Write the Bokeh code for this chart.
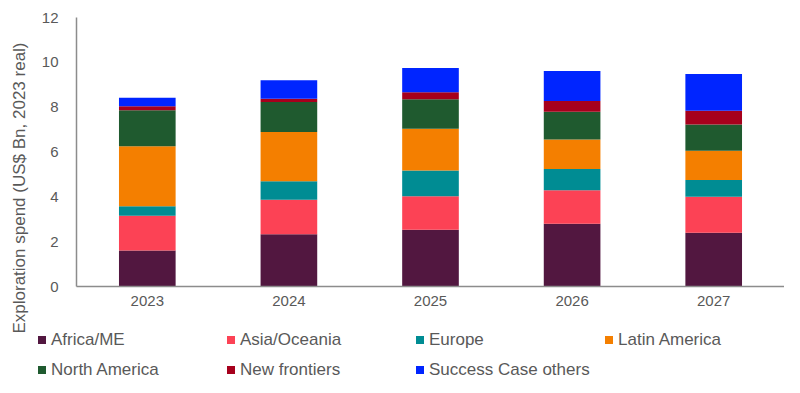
from bokeh.plotting import figure
from bokeh.layouts import row, column
from bokeh.models import Range1d, FixedTicker, Div
from bokeh.embed import file_html
from bokeh.resources import INLINE

years = ["2023", "2024", "2025", "2026", "2027"]
africa_me = [1.61, 2.33, 2.53, 2.80, 2.40]
asia_oceania = [1.55, 1.54, 1.50, 1.49, 1.60]
europe = [0.42, 0.82, 1.14, 0.95, 0.75]
latin_america = [2.68, 2.20, 1.87, 1.32, 1.31]
north_america = [1.60, 1.34, 1.31, 1.24, 1.17]
new_frontiers = [0.18, 0.15, 0.31, 0.47, 0.61]
success_case_others = [0.38, 0.82, 1.09, 1.34, 1.64]

series_names = ["Africa/ME", "Asia/Oceania", "Europe", "Latin America",
                "North America", "New frontiers", "Success Case others"]
keys = ["africa_me", "asia_oceania", "europe", "latin_america",
        "north_america", "new_frontiers", "success_case_others"]
colors = ["#521740", "#fc4255", "#008c93", "#f47f00", "#1f5a2f", "#a6001c", "#0025ff"]
y_ticks = [0, 2, 4, 6, 8, 10, 12]
y_title = "Exploration spend (US$ Bn, 2023 real)"

data = dict(years=years, africa_me=africa_me, asia_oceania=asia_oceania,
            europe=europe, latin_america=latin_america, north_america=north_america,
            new_frontiers=new_frontiers, success_case_others=success_case_others)

FONT = "Liberation Sans"
GRAY = "#595959"
TOP_H = 330
TOTAL_H = 380

# --- y-axis title (rotated text) ---
ylab_html = (
    f'<div style="position:relative;width:36px;height:{TOTAL_H}px;">'
    f'<div style="position:absolute;left:20px;top:188px;'
    f'transform:translate(-50%,-50%) rotate(-90deg);white-space:nowrap;'
    f'font-family:\'{FONT}\';font-size:17px;line-height:20px;color:{GRAY};">'
    f'{y_title}</div></div>'
)
ylab_div = Div(text=ylab_html, width=36, height=TOTAL_H, margin=0)

# --- main chart ---
p = figure(x_range=years, width=748, height=TOP_H, output_backend="svg",
           toolbar_location=None, min_border_left=40, min_border_right=0,
           min_border_top=17, min_border_bottom=TOP_H - 286)
p.y_range = Range1d(0, 12)
p.x_range.range_padding = 0

p.vbar_stack(keys, x="years", width=0.4, color=colors, source=data, line_color=None)

p.xgrid.visible = False
p.ygrid.visible = False
p.outline_line_color = None

for ax in (p.xaxis[0], p.yaxis[0]):
    ax.axis_line_color = "#8c8c8c"
    ax.axis_line_width = 1.5
    ax.major_tick_line_color = None
    ax.minor_tick_line_color = None
    ax.major_label_text_font = FONT
    ax.major_label_text_font_size = "15px"
    ax.major_label_text_color = GRAY
p.yaxis[0].ticker = FixedTicker(ticks=y_ticks)
p.yaxis[0].major_label_standoff = 12
p.xaxis[0].major_label_standoff = 3

# --- legend (two rows of four columns) ---
parts = []
for i, (name, col) in enumerate(zip(series_names, colors)):
    r, c = divmod(i, 4)
    parts.append(
        f'<div style="position:absolute;left:{2 + 189 * c}px;top:{30 * r}px;'
        f'height:20px;line-height:20px;white-space:nowrap;">'
        f'<span style="display:inline-block;width:8px;height:8px;background:{col};'
        f'margin-right:5px;vertical-align:middle;position:relative;top:-1px;"></span>{name}</div>'
    )
legend_html = (f'<div style="position:relative;width:748px;height:{TOTAL_H - TOP_H}px;'
               f'font-family:\'{FONT}\';font-size:17px;color:{GRAY};">' + "".join(parts) + "</div>")
legend_div = Div(text=legend_html, width=748, height=TOTAL_H - TOP_H, margin=0)

layout = row(ylab_div, column(p, legend_div))
open("out.html", "w").write(file_html(layout, INLINE))
